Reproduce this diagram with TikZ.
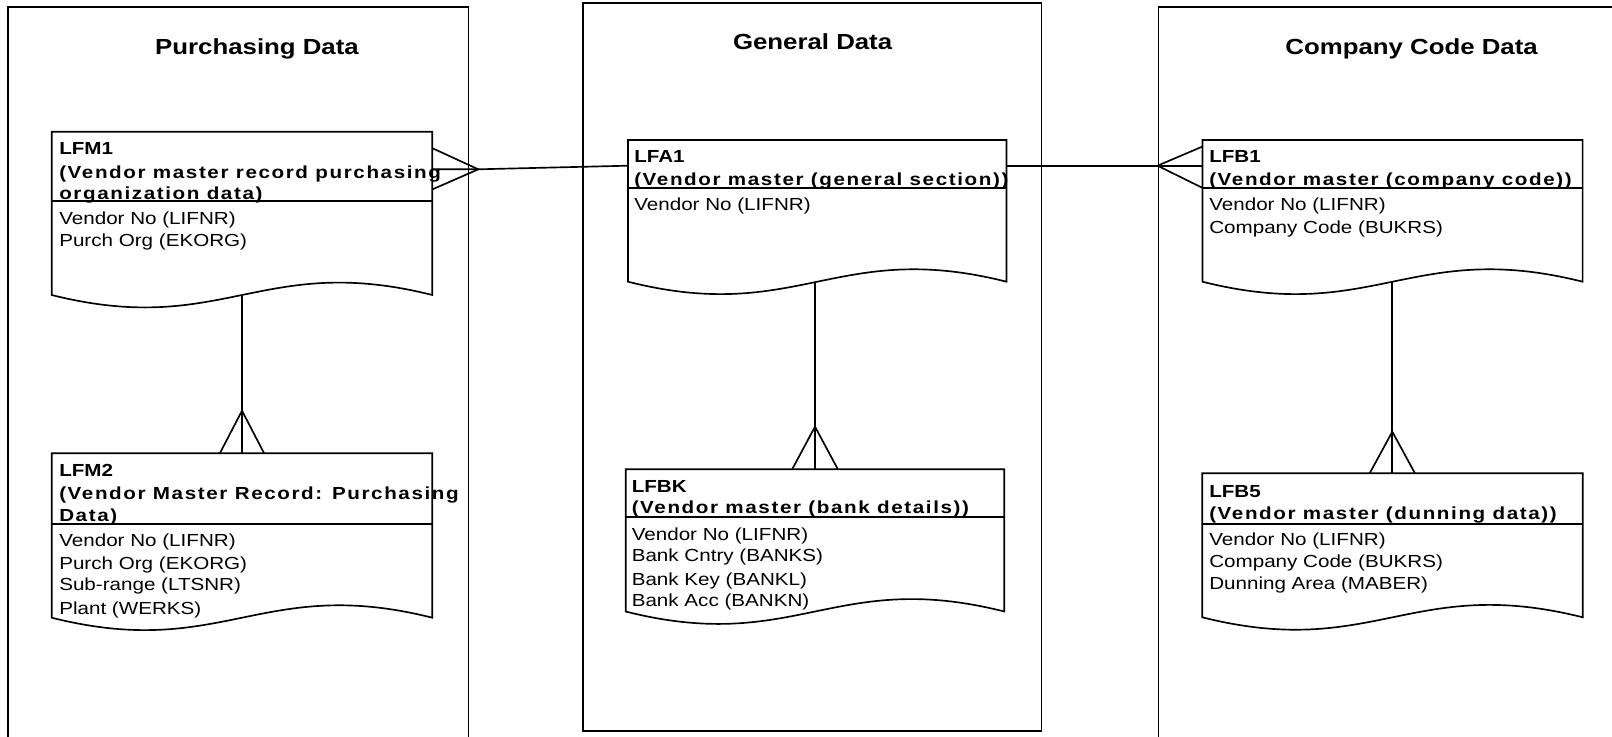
\documentclass[tikz,border=0pt]{standalone}
\usepackage{fontspec}
\setmainfont{Liberation Sans}[FakeStretch=1.18]
\newfontfamily\descfont{Liberation Sans}[FakeStretch=1.18, LetterSpace=9.2]
\usetikzlibrary{fit}
\tikzset{
  ent/.style={line width=1.25pt, line join=miter},
  link/.style={line width=1.25pt},
  panel/.style={draw, line width=1.25pt, inner sep=0pt},
  box/.style={inner sep=0pt},
  title/.style={font=\fontsize{16.4}{19}\selectfont\bfseries, anchor=base, inner sep=0pt},
  ename/.style={font=\fontsize{13.1}{16}\selectfont\bfseries, anchor=base west, inner sep=0pt},
  edesc/.style={font=\descfont\fontsize{13.1}{16}\selectfont\bfseries, anchor=base west, inner sep=0pt},
  attr/.style={font=\fontsize{13.1}{16}\selectfont, anchor=base west, inner sep=0pt},
}
% name, L, T, R, B, header line
\newcommand\erbox[6]{%
  \node[box, fit={(#2,#3) (#4,#5)}] (#1) {};
  \draw[ent] (#2,#5) -- (#2,#3) -- (#4,#3) -- (#4,#5)
    .. controls ({#2+0.55*(#4-#2)},{#5-43}) and ({#2+0.45*(#4-#2)},{#5+43}) .. (#2,#5) -- cycle;
  \draw[ent] (#2,#6) -- (#4,#6);
}
\begin{document}
\begin{tikzpicture}[x=0.75pt, y=-0.75pt]
\useasboundingbox (0,0) rectangle (1612,736);
% panels
\node[panel, fit={(8,7.3) (468.5,760)}] (ppur) {};
\node[panel, fit={(583,3.1) (1041.4,731)}] (pgen) {};
\node[panel, fit={(1158.5,7.3) (1640,760)}] (pcom) {};
\node[title] (tpur) at (257,54) {Purchasing Data};
\node[title] (tgen) at (812.6,49.3) {General Data};
\node[title] (tcom) at (1411.6,54.5) {Company Code Data};
% entities
\erbox{lfm1}{51.7}{131.7}{432.3}{295}{201.3}
\erbox{lfm2}{51.7}{453.3}{432.3}{617.7}{524}
\erbox{lfa1}{628}{140}{1006.5}{281.7}{188.3}
\erbox{lfbk}{625.7}{469.3}{1004.3}{611.5}{517.3}
\erbox{lfb1}{1202.4}{140}{1582.6}{281.7}{187.7}
\erbox{lfb5}{1202.3}{473.3}{1582.7}{617.3}{524.3}
% texts LFM1
\node[ename] (lfm1n) at (59,154.3) {LFM1};
\node[edesc] (lfm1d1) at (59,178.3) {(Vendor master record purchasing};
\node[edesc] (lfm1d2) at (59,199.3) {organization data)};
\node[attr] (lfm1a1) at (59,224) {Vendor No (LIFNR)};
\node[attr] (lfm1a2) at (59,246) {Purch Org (EKORG)};
% LFM2
\node[ename] (lfm2n) at (59,476.7) {LFM2};
\node[edesc] (lfm2d1) at (59,499) {(Vendor Master Record: Purchasing};
\node[edesc] (lfm2d2) at (59,521.7) {Data)};
\node[attr] (lfm2a1) at (59,546.7) {Vendor No (LIFNR)};
\node[attr] (lfm2a2) at (59,569) {Purch Org (EKORG)};
\node[attr] (lfm2a3) at (59,590.7) {Sub-range (LTSNR)};
\node[attr] (lfm2a4) at (59,614) {Plant (WERKS)};
% LFA1
\node[ename] (lfa1n) at (634,162.7) {LFA1};
\node[edesc] (lfa1d1) at (634,185) {(Vendor master (general section))};
\node[attr] (lfa1a1) at (634,210) {Vendor No (LIFNR)};
% LFBK
\node[ename] (lfbkn) at (631.5,492.3) {LFBK};
\node[edesc] (lfbkd1) at (631.5,513.3) {(Vendor master (bank details))};
\node[attr] (lfbka1) at (631.5,540) {Vendor No (LIFNR)};
\node[attr] (lfbka2) at (631.5,561.7) {Bank Cntry (BANKS)};
\node[attr] (lfbka3) at (631.5,585) {Bank Key (BANKL)};
\node[attr] (lfbka4) at (631.5,606.7) {Bank Acc (BANKN)};
% LFB1
\node[ename] (lfb1n) at (1209,162.7) {LFB1};
\node[edesc] (lfb1d1) at (1209,185) {(Vendor master (company code))};
\node[attr] (lfb1a1) at (1209,210) {Vendor No (LIFNR)};
\node[attr] (lfb1a2) at (1209,233.3) {Company Code (BUKRS)};
% LFB5
\node[ename] (lfb5n) at (1209,497.3) {LFB5};
\node[edesc] (lfb5d1) at (1209,519.3) {(Vendor master (dunning data))};
\node[attr] (lfb5a1) at (1209,545.7) {Vendor No (LIFNR)};
\node[attr] (lfb5a2) at (1209,567.3) {Company Code (BUKRS)};
\node[attr] (lfb5a3) at (1209,589.3) {Dunning Area (MABER)};
% connectors
% LFA1 -> LFM1 (many at LFM1)
\coordinate (c1) at (478.3,169.3);
\draw[link] (lfm1.east |- 0,148.3) -- (c1) -- (lfm1.east |- 0,189.3);
\draw[link] (lfm1.east |- c1) -- (c1) -- (lfa1.west |- 0,165.7);
% LFA1 -> LFB1 (many at LFB1)
\coordinate (c2) at (1157.5,165.7);
\draw[link] (lfb1.west |- 0,146.7) -- (c2) -- (lfb1.west |- 0,187.7);
\draw[link] (lfa1.east |- c2) -- (c2) -- (lfb1.west |- c2);
% LFM1 -> LFM2
\coordinate (c3) at (242,410.7);
\draw[link] (lfm1.south -| c3) -- (c3) -- (lfm2.north -| c3);
\draw[link] (lfm2.north -| 220,0) -- (c3) -- (lfm2.north -| 264,0);
% LFA1 -> LFBK
\coordinate (c4) at (815,426.7);
\draw[link] (lfa1.south -| c4) -- (c4) -- (lfbk.north -| c4);
\draw[link] (lfbk.north -| 792.3,0) -- (c4) -- (lfbk.north -| 837.7,0);
% LFB1 -> LFB5
\coordinate (c5) at (1392.3,431.7);
\draw[link] (lfb1.south -| c5) -- (c5) -- (lfb5.north -| c5);
\draw[link] (lfb5.north -| 1369.8,0) -- (c5) -- (lfb5.north -| 1414.8,0);
\end{tikzpicture}
\end{document}
